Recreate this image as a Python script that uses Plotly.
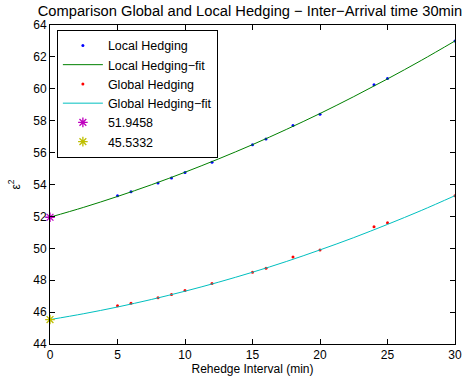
import plotly.graph_objects as go

interval = [5, 6, 8, 9, 10, 12, 15, 16, 18, 20, 24, 25, 30]
local_vals = [53.3, 53.55, 54.1, 54.4, 54.75, 55.4, 56.5, 56.85, 57.7, 58.4, 60.25, 60.65, 63.0]
global_vals = [46.4, 46.55, 46.9, 47.1, 47.35, 47.8, 48.5, 48.75, 49.45, 49.9, 51.35, 51.6, 53.3]

fit_x = [0, 2.5, 5, 7.5, 10, 12.5, 15, 17.5, 20, 22.5, 25, 27.5, 30]
local_fit = [51.95, 52.57, 53.25, 53.98, 54.77, 55.61, 56.50, 57.45, 58.45, 59.51, 60.62, 61.78, 63.0]
global_fit = [45.53, 45.90, 46.32, 46.79, 47.31, 47.88, 48.50, 49.17, 49.90, 50.67, 51.50, 52.37, 53.30]

local_intercept = 51.9458
global_intercept = 45.5332

fig = go.Figure()
fig.add_trace(go.Scatter(x=interval, y=local_vals, mode="markers", name="Local Hedging",
                         marker=dict(color="#0000FF", size=3)))
fig.add_trace(go.Scatter(x=fit_x, y=local_fit, mode="lines", name="Local Hedging\u2212fit",
                         line=dict(color="#008000", width=1, shape="spline")))
fig.add_trace(go.Scatter(x=interval, y=global_vals, mode="markers", name="Global Hedging",
                         marker=dict(color="#FF0000", size=3)))
fig.add_trace(go.Scatter(x=fit_x, y=global_fit, mode="lines", name="Global Hedging\u2212fit",
                         line=dict(color="#00BFBF", width=1, shape="spline")))
fig.add_trace(go.Scatter(x=[0], y=[local_intercept], mode="markers", name=f"{local_intercept:.4f}",
                         cliponaxis=False,
                         marker=dict(color="#BF00BF", size=8, symbol="asterisk-open",
                                     line=dict(color="#BF00BF", width=1.3))))
fig.add_trace(go.Scatter(x=[0], y=[global_intercept], mode="markers", name=f"{global_intercept:.4f}",
                         cliponaxis=False,
                         marker=dict(color="#BFBF00", size=8, symbol="asterisk-open",
                                     line=dict(color="#BFBF00", width=1.3))))

axis_common = dict(showline=True, linecolor="black", linewidth=1, mirror="allticks",
                   ticks="inside", ticklen=5, tickcolor="black", showgrid=False, zeroline=False,
                   tickfont=dict(size=12, color="black"))

fig.update_layout(
    width=469, height=382,
    margin=dict(l=50, r=14, t=25, b=38, autoexpand=False),
    paper_bgcolor="white", plot_bgcolor="white",
    font=dict(family="Liberation Sans, Arial, sans-serif", color="black", size=12),
    title=dict(text="Comparison Global and Local Hedging \u2212 Inter\u2212Arrival time 30min",
               x=0.533, xanchor="center", y=0.972, yanchor="middle", font=dict(size=14.7)),
    xaxis=dict(range=[0, 30], tickvals=[0, 5, 10, 15, 20, 25, 30],
               title=dict(text="Rehedge Interval (min)", standoff=2, font=dict(size=12)),
               **axis_common),
    yaxis=dict(range=[44, 64], tickvals=list(range(44, 65, 2)),
               title=dict(text="\u03b5<sup>2</sup>", standoff=10, font=dict(size=12)),
               **axis_common),
    legend=dict(x=0.017, y=0.985, xanchor="left", yanchor="top", bordercolor="black",
                borderwidth=1, bgcolor="white", font=dict(size=12.5), tracegroupgap=0,
                itemwidth=40),
    showlegend=True,
)

# remove the browser's default 8px body margin so the figure sits at the window origin
js = "document.body.style.margin='0';"
fig.write_html("out.html", post_script=js, config={"displayModeBar": False})
